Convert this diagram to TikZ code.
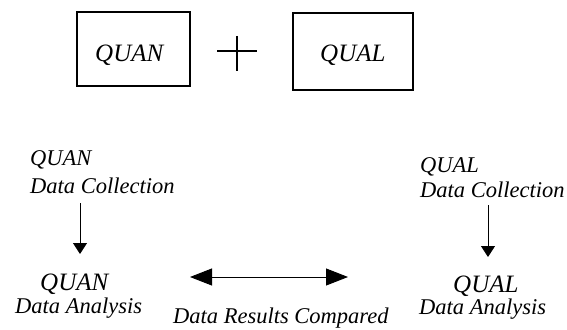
\documentclass[tikz,border=0pt]{standalone}
\usepackage{fontspec}
\setmainfont{Liberation Serif}
\usetikzlibrary{arrows.meta}
\begin{document}
\begin{tikzpicture}[x=1pt,y=-1pt,
  lbl/.style={font=\fontsize{22.5}{24}\selectfont\itshape, inner sep=0pt, anchor=base west},
  big/.style={font=\fontsize{25}{27}\selectfont\itshape, inner sep=0pt, anchor=base west},
  box/.style={draw, line width=1.3pt, inner sep=0pt},
  conn/.style={line width=0.9pt, -{Triangle[length=11pt,width=14pt]}},
  both/.style={line width=0.9pt, {Triangle[length=22pt,width=17pt]}-{Triangle[length=22pt,width=17pt]}}]
\useasboundingbox (0,0) rectangle (567,329);
% top: the two strands joined by a plus sign
\node[box, minimum width=113pt, minimum height=74pt] (quanbox) at (133.5,49) {};
\node[box, minimum width=120pt, minimum height=77pt] (qualbox) at (353,51.5) {};
\node[big] (quantop) at (95,62) {QUAN};
\node[big] (qualtop) at (320,62) {QUAL};
\coordinate (pl) at (217,51); \coordinate (pr) at (257,51);
\coordinate (pt) at (237,36); \coordinate (pb) at (237,71);
\draw[line width=1.2pt] (pl) -- (pr) (pt) -- (pb);
% left strand
\node[lbl] (lq) at (30,165) {QUAN};
\node[lbl] (lcoll) at (30,193) {Data Collection};
\node[big] (laq) at (40,290) {QUAN};
\node[lbl] (lan) at (15,313) {Data Analysis};
\coordinate (la1) at (80,203); \coordinate (la2) at (80,254);
\draw[conn] (la1) -- (la2);
% right strand
\node[lbl] (rq) at (420,172) {QUAL};
\node[lbl] (rcoll) at (420,197) {Data Collection};
\node[big] (raq) at (453,292) {QUAL};
\node[lbl] (ran) at (419,314) {Data Analysis};
\coordinate (ra1) at (488,205); \coordinate (ra2) at (488,257);
\draw[conn] (ra1) -- (ra2);
% comparison of results
\coordinate (cl) at (190,277); \coordinate (cr) at (348,277);
\draw[both] (cl) -- (cr);
\node[lbl] (cmp) at (173,323) {Data Results Compared};
\end{tikzpicture}
\end{document}
